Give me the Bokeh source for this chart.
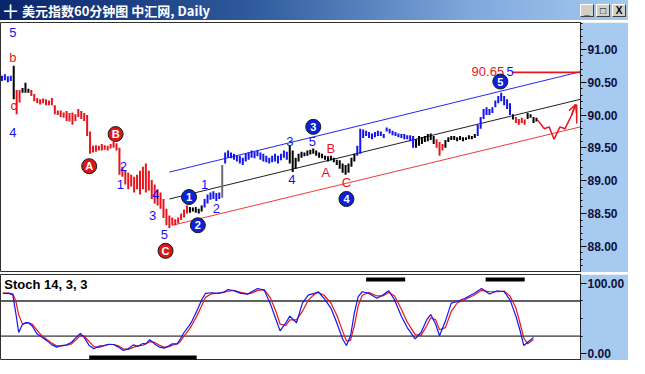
import numpy as np
from bokeh.plotting import figure
from bokeh.models import (ColumnDataSource, Range1d, FixedTicker, NumeralTickFormatter,
                          Label, Span, Arrow, OpenHead, Div)
from bokeh.layouts import column
from bokeh.embed import file_html
from bokeh.resources import INLINE
from bokeh.core.properties import value

TITLE = "美元指数60分钟图 中汇网, Daily"

# ---- hourly bars: high / low per bar (bar index = position) ----
highs = [90.60, 90.62, 90.59, 90.60, 90.75, 90.38, 90.38, 90.41, 90.49, 90.40,
         90.38, 90.32, 90.26, 90.24, 90.25, 90.24, 90.22, 90.26, 90.15, 90.07,
         90.07, 90.04, 90.06, 90.03, 90.04, 90.01, 90.09, 90.06, 90.03, 90.00,
         89.75, 89.53, 89.54, 89.53, 89.56, 89.54, 89.53, 89.56, 89.59, 89.57,
         89.50, 89.21, 89.16, 89.12, 89.09, 89.06, 89.09, 89.15, 89.21, 89.26,
         89.15, 89.01, 88.94, 88.87, 88.82, 88.72, 88.57, 88.47, 88.44, 88.41,
         88.44, 88.50, 88.56, 88.62, 88.60, 88.59, 88.60, 88.57, 88.62, 88.72,
         88.79, 88.82, 88.84, 88.81, 88.82, 89.24, 89.43, 89.46, 89.43, 89.41,
         89.38, 89.38, 89.35, 89.41, 89.43, 89.46, 89.44, 89.46, 89.43, 89.41,
         89.38, 89.35, 89.38, 89.41, 89.38, 89.41, 89.46, 89.44, 89.53, 89.46,
         89.35, 89.41, 89.44, 89.43, 89.46, 89.47, 89.49, 89.46, 89.43, 89.41,
         89.38, 89.37, 89.38, 89.35, 89.32, 89.31, 89.26, 89.24, 89.26, 89.35,
         89.41, 89.53, 89.79, 89.78, 89.76, 89.74, 89.72, 89.74, 89.76, 89.75,
         89.71, 89.81, 89.79, 89.76, 89.74, 89.72, 89.71, 89.71, 89.69, 89.69,
         89.68, 89.63, 89.68, 89.66, 89.68, 89.71, 89.72, 89.68, 89.63, 89.59,
         89.56, 89.62, 89.66, 89.68, 89.68, 89.66, 89.68, 89.66, 89.66, 89.69,
         89.68, 89.71, 89.85, 89.97, 90.09, 90.12, 90.09, 90.12, 90.22, 90.29,
         90.34, 90.29, 90.24, 90.18, 90.01, 89.97, 89.94, 89.96, 89.93, 90.03,
         90.01, 89.97, 89.96]
lows = [90.52, 90.53, 90.50, 90.52, 90.24, 90.01, 90.19, 90.34, 90.34, 90.34,
        90.29, 90.21, 90.18, 90.16, 90.18, 90.15, 90.15, 90.15, 90.01, 90.00,
        89.97, 89.96, 89.91, 89.90, 89.85, 89.91, 89.97, 89.94, 89.91, 89.68,
        89.41, 89.43, 89.44, 89.46, 89.46, 89.47, 89.46, 89.49, 89.50, 89.46,
        89.09, 89.06, 88.94, 88.87, 88.91, 88.82, 88.87, 88.79, 88.87, 88.82,
        88.85, 88.72, 88.65, 88.62, 88.57, 88.43, 88.32, 88.28, 88.32, 88.32,
        88.35, 88.40, 88.44, 88.50, 88.51, 88.53, 88.51, 88.50, 88.53, 88.59,
        88.65, 88.71, 88.72, 88.69, 88.72, 88.74, 89.26, 89.35, 89.34, 89.32,
        89.29, 89.26, 89.24, 89.29, 89.32, 89.35, 89.34, 89.37, 89.32, 89.29,
        89.28, 89.26, 89.28, 89.29, 89.26, 89.31, 89.35, 89.32, 89.26, 89.13,
        89.18, 89.29, 89.35, 89.37, 89.38, 89.40, 89.41, 89.38, 89.35, 89.34,
        89.32, 89.29, 89.31, 89.28, 89.24, 89.18, 89.12, 89.09, 89.12, 89.21,
        89.29, 89.38, 89.41, 89.65, 89.68, 89.65, 89.63, 89.66, 89.68, 89.68,
        89.65, 89.75, 89.72, 89.69, 89.68, 89.66, 89.65, 89.63, 89.63, 89.60,
        89.50, 89.50, 89.53, 89.56, 89.59, 89.60, 89.62, 89.56, 89.50, 89.38,
        89.46, 89.50, 89.59, 89.62, 89.62, 89.60, 89.62, 89.60, 89.62, 89.63,
        89.63, 89.65, 89.68, 89.79, 89.94, 90.00, 90.00, 90.03, 90.12, 90.18,
        90.21, 90.15, 90.09, 90.00, 89.93, 89.88, 89.85, 89.88, 89.85, 89.94,
        89.96, 89.88, 89.90]

# wave colour runs (exclusive end bar index, colour)
run_ends = [4, 5, 7, 10, 64, 69, 75, 76, 98, 121, 141, 148, 151, 162, 174, 175, 179, 183]
run_colors = ["blue", "black", "red", "black", "red", "black", "blue", "gray",
              "blue", "black", "blue", "black", "red", "black", "blue", "black", "red", "black"]

# channel lines (bar index, price)
upper_x = [57, 197]; upper_y = [89.13, 90.66]
mid_x = [57, 197];   mid_y = [88.72, 90.24]
lower_x = [58, 197]; lower_y = [88.32, 89.82]
target_x = [173.7, 197]; target_y = [90.65, 90.65]

# projected path
fc_x = [182.3, 184.7, 186.3, 188.0, 190.0, 191.7, 194.0, 195.3]
fc_y = [89.93, 89.79, 89.82, 89.63, 89.82, 89.79, 90.00, 90.16]
fc_drop_x = [195.7, 195.7]
fc_drop_y = [90.16, 89.87]

# wave labels
lab_x = [3.7, 3.7, 4.0, 3.7, 41.3, 40.3, 52.3, 51.3, 55.3, 69.0, 73.0, 98.0, 105.7, 98.7, 112.0, 110.3, 117.3, 173.0]
lab_y = [91.26, 90.88, 90.15, 89.74, 89.21, 88.94, 88.79, 88.47, 88.18, 88.94, 88.57, 89.60, 89.60, 89.01, 89.49, 89.13, 88.97, 90.67]
lab_t = ["5", "b", "c", "4", "2", "1", "4", "3", "5", "1", "2", "3", "5", "4", "B", "A", "C", "5"]
lab_c = ["blue", "red", "red", "blue", "blue", "blue", "blue", "blue", "blue", "blue", "blue",
         "blue", "blue", "blue", "red", "red", "red", "blue"]

circ_x = [29.7, 38.7, 55.7, 63.7, 66.7, 106.0, 117.3, 169.7]
circ_y = [89.22, 89.71, 87.93, 88.75, 88.32, 89.82, 88.72, 90.51]
circ_t = ["A", "B", "C", "1", "2", "3", "4", "5"]
circ_c = ["red", "red", "red", "blue", "blue", "blue", "blue", "blue"]

target_label = "90.65"
target_label_x = 171.0
price_ticks = [88.0, 88.5, 89.0, 89.5, 90.0, 90.5, 91.0]

# ---- Stochastic 14,3,3 ----
stoch_x = [0.3, 2.3, 3.7, 4.7, 5.7, 7, 8, 9, 10.3, 12,
           13.7, 15.3, 17, 18.7, 20.3, 22, 23.7, 25.3, 26.7, 28,
           29.7, 31.3, 33, 34.7, 36.3, 38, 39.7, 41.3, 43, 44.7,
           46.3, 48, 49, 50.3, 52, 53.7, 55.3, 57, 58, 59.7,
           60.7, 62, 63.7, 64.7, 66.3, 68, 69.3, 71.3, 73.7, 75.7,
           77, 79, 81.3, 83.7, 85, 87, 89.3, 91.3, 93.3, 94.7,
           96.7, 98, 100.3, 102.3, 104.3, 106.3, 107.7, 109.7, 112, 114,
           116, 117.3, 118.7, 120, 121.3, 122.7, 125, 127.7, 129.7, 131.7,
           133.7, 136, 138, 140.7, 142.7, 144.7, 146, 147.7, 149, 151,
           153, 155, 157.7, 160.7, 163.3, 166, 168.7, 171, 173, 175,
           176.3, 177.7, 179, 181]
stoch_k = [85.6, 85.6, 83.3, 57.9, 30.1, 41.7, 44.0, 44.0, 39.4, 27.8,
           23.2, 18.5, 12.5, 9.3, 11.6, 12.5, 16.2, 23.2, 28.7, 23.2,
           11.6, 6.9, 10.6, 11.6, 13.4, 13.0, 9.3, 4.6, 6.9, 12.5,
           10.6, 14.4, 13.9, 19.9, 13.9, 9.3, 7.9, 11.6, 13.9, 13.9,
           20.9, 30.1, 39.4, 46.3, 60.2, 76.4, 85.6, 86.6, 85.6, 88.0,
           91.2, 89.4, 85.6, 84.7, 88.0, 92.6, 90.3, 71.8, 48.6, 32.4,
           44.0, 53.3, 44.0, 71.8, 83.3, 85.6, 88.0, 78.7, 64.8, 44.0,
           20.9, 11.6, 25.5, 57.9, 81.0, 88.0, 85.6, 78.7, 83.3, 89.4,
           76.4, 53.3, 37.1, 20.9, 30.1, 48.6, 55.6, 41.7, 25.5, 46.3,
           71.8, 74.1, 78.7, 85.6, 92.6, 84.7, 89.4, 88.0, 76.4, 53.3,
           34.7, 11.6, 16.2, 23.2]
stoch_d = [86, 86, 85, 75, 55, 42, 43, 44, 42, 33,
           25, 20, 15, 11, 11, 12, 14, 20, 26, 25,
           17, 10, 9, 11, 13, 13, 11, 7, 6, 9,
           11, 12, 14, 17, 16, 12, 9, 10, 12, 14,
           17, 25, 34, 41, 53, 68, 80, 85, 86, 87,
           89, 90, 87, 85, 86, 90, 91, 80, 60, 42,
           40, 48, 48, 60, 76, 84, 87, 83, 72, 55,
           32, 18, 19, 40, 68, 83, 87, 82, 82, 87,
           82, 63, 45, 27, 26, 40, 51, 48, 34, 37,
           60, 72, 77, 83, 90, 88, 88, 89, 82, 65,
           45, 22, 14, 20]
stoch_levels = [75, 25]
# zone bars (start bar, end bar, level)
zone_x0 = [124.0, 164.7, 29.7]
zone_x1 = [137.3, 178.0, 66.3]
zone_y = [105.5, 105.5, -5.5]
stoch_ticks = [0, 100]

# ---------------------------------------------------------------
PAL = {"blue": "#1414f0", "red": "#e8141c", "black": "#000000", "gray": "#6e6e6e"}
PANEL = "#a6caf0"
FONT = "Liberation Sans"
FW = 580

bar_cols = []
start = 0
for end, c in zip(run_ends, run_colors):
    bar_cols += [PAL[c]] * (end - start)
    start = end
xs = np.arange(len(highs))
bars = ColumnDataSource(dict(x=xs, hi=highs, lo=lows, c=bar_cols))

xr = Range1d(-0.5, 197)
p = figure(frame_width=FW, frame_height=250, x_range=xr, y_range=Range1d(87.60, 91.41),
           toolbar_location=None, output_backend="svg", y_axis_location="right",
           x_axis_location=None, min_border_left=0, min_border_top=0, min_border_bottom=0,
           min_border_right=48, border_fill_color=PANEL, background_fill_color="white",
           outline_line_color="#303030", outline_line_width=1)
p.grid.visible = False
ax = p.yaxis[0]
ax.ticker = FixedTicker(ticks=price_ticks, minor_ticks=list(np.arange(87.6, 91.45, 0.1)))
ax.formatter = NumeralTickFormatter(format="0.00")
ax.major_label_text_font = FONT
ax.major_label_text_font_size = "12px"
ax.major_label_text_font_style = "bold"
ax.major_label_text_color = "#10103a"
ax.major_tick_out = 6
ax.major_tick_in = 0
ax.minor_tick_out = 2
ax.minor_tick_in = 0
ax.major_label_standoff = 1
ax.axis_line_color = "#202020"

p.line(upper_x, upper_y, color="#2626f0", line_width=1)
p.line(mid_x, mid_y, color="#202020", line_width=1)
p.line(lower_x, lower_y, color="#f03a3a", line_width=1)
p.line(target_x, target_y, color="#e8141c", line_width=1.6)

p.segment(x0="x", y0="lo", x1="x", y1="hi", color="c", line_width=2, source=bars)

p.line(fc_x, fc_y, color="#e8141c", line_width=1.5)
p.line(fc_drop_x, fc_drop_y, color="#e8141c", line_width=1.5)
p.add_layout(Arrow(end=OpenHead(size=8, line_color="#e8141c", line_width=1.5),
                   x_start=fc_x[-2], y_start=fc_y[-2], x_end=fc_x[-1], y_end=fc_y[-1],
                   line_color="#e8141c", line_width=1.5))

lab = ColumnDataSource(dict(x=lab_x, y=lab_y, t=lab_t, c=[PAL[c] for c in lab_c]))
p.text(x="x", y="y", text="t", text_color="c", source=lab, text_font=value(FONT),
       text_font_size="13px", text_align="center", text_baseline="middle")
p.text(x=[target_label_x], y=[target_y[0] + 0.01], text=[target_label], text_color="#e8141c",
       text_font=value(FONT), text_font_size="13px", text_align="right", text_baseline="middle")

circ = ColumnDataSource(dict(x=circ_x, y=circ_y, t=circ_t,
                             c=["#d81818" if c == "red" else "#0c22d8" for c in circ_c]))
p.scatter(x="x", y="y", size=15, fill_color="c", line_color="#1a1a1a", line_width=1, source=circ)
p.text(x="x", y="y", text="t", text_color="white", source=circ, text_font=value(FONT),
       text_font_size="11px", text_font_style="bold", text_align="center", text_baseline="middle")

# ---- stochastic panel ----
s = figure(frame_width=FW, frame_height=86, x_range=xr, y_range=Range1d(-9.7, 112.5),
           toolbar_location=None, output_backend="svg", y_axis_location="right",
           x_axis_location=None, min_border_left=0, min_border_top=0, min_border_bottom=0,
           min_border_right=48, border_fill_color=PANEL, background_fill_color="white",
           outline_line_color="#303030")
s.grid.visible = False
sa = s.yaxis[0]
sa.ticker = FixedTicker(ticks=stoch_ticks, minor_ticks=[25, 50, 75])
sa.formatter = NumeralTickFormatter(format="0.00")
sa.major_label_text_font = FONT
sa.major_label_text_font_size = "12px"
sa.major_label_text_font_style = "bold"
sa.major_label_text_color = "#10103a"
sa.major_tick_out = 6
sa.major_tick_in = 0
sa.minor_tick_out = 2
sa.minor_tick_in = 0
sa.major_label_standoff = 1
sa.axis_line_color = "#202020"

s.add_layout(Span(location=stoch_levels[0], dimension="width", line_color="#606060",
                  line_width=2, level="underlay"))
s.add_layout(Span(location=stoch_levels[1], dimension="width", line_color="#000000",
                  line_width=1, level="underlay"))
s.line(stoch_x, stoch_d, color="#e8141c", line_width=1.2)
s.line(stoch_x, stoch_k, color="#1414f0", line_width=1.2)
s.segment(x0=zone_x0, y0=zone_y, x1=zone_x1, y1=zone_y, color="black", line_width=4)
s.add_layout(Label(x=0.8, y=98, text="Stoch 14, 3, 3", text_font=FONT, text_font_size="13px",
                   text_font_style="bold", text_color="black", text_baseline="middle"))

btn = ('<span style="display:inline-block;width:14px;height:13px;margin-left:2px;'
       'background:#d4d0c8;border:1px solid;border-color:#fff #404040 #404040 #fff;'
       'color:#000;font:bold 10px Liberation Sans;line-height:12px;text-align:center;">{}</span>')
title_html = (
    '<div style="width:628px;height:20px;box-sizing:border-box;padding:0 2px 0 4px;'
    'background:linear-gradient(to right,#0a246a 0%,#2f5a9c 40%,#7fa8dc 75%,#a6caf0 100%);'
    'display:flex;align-items:center;color:#fff;'
    'font:bold 13px \'Noto Sans CJK SC\',sans-serif;">'
    '<span style="margin-right:5px;font-weight:bold;">&#9547;</span>'
    + TITLE +
    '<span style="margin-left:auto;display:flex;">'
    + btn.format("_") + btn.format("&#9633;") + btn.format("X") + '</span></div>'
)
bar_div = Div(text=title_html, width=628, height=20, margin=0)

layout = column(bar_div, p, s, spacing=2)
layout.margin = 0

with open("out.html", "w") as f:
    f.write(file_html(layout, INLINE, title="chart"))
